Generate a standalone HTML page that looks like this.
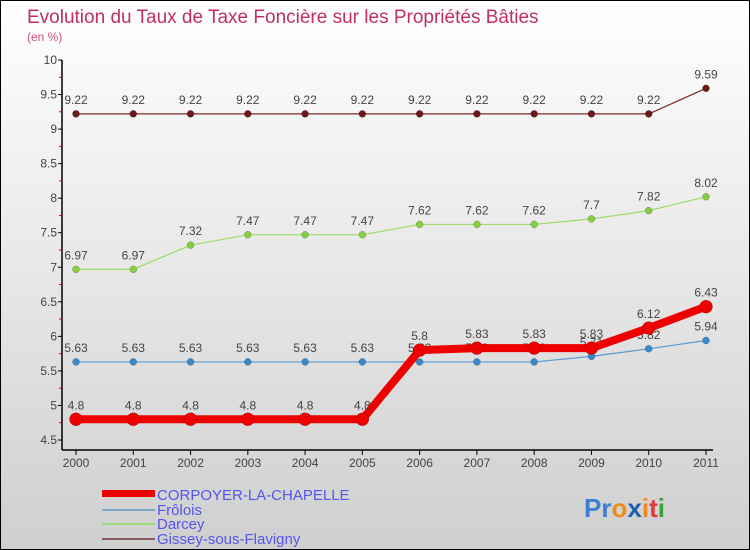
<!DOCTYPE html>
<html><head><meta charset="utf-8"><style>
body{margin:0}
#c{width:750px;height:550px;position:relative;box-sizing:border-box;border:1px solid #000;background:linear-gradient(#ffffff,#cfcfcf);font-family:"Liberation Sans",sans-serif;overflow:hidden}
</style></head><body>
<div id="c">
<svg id="s" width="750" height="550" style="position:absolute;left:0;top:0" font-family="Liberation Sans, sans-serif">
<text x="26" y="22" font-size="19" fill="#c0305a">Evolution du Taux de Taxe Foncière sur les Propriétés Bâties</text>
<text x="26" y="40" font-size="12" fill="#d05080">(en %)</text>
<g id="axes"></g><g id="series"></g>
<g>
<rect x="101" y="489" width="53" height="7" fill="#e00"/>
<text x="156" y="499" font-size="15" fill="#5555ee">CORPOYER-LA-CHAPELLE</text>
<rect x="101" y="508" width="53" height="2" fill="#7aa8cc"/>
<text x="156" y="514" font-size="15" fill="#5555ee">Frôlois</text>
<rect x="101" y="522" width="53" height="2" fill="#99dd77"/>
<text x="156" y="528" font-size="15" fill="#5555ee">Darcey</text>
<rect x="101" y="537" width="53" height="2" fill="#8a5a5a"/>
<text x="156" y="543" font-size="15" fill="#5555ee">Gissey-sous-Flavigny</text>
</g>
<g font-size="26" font-weight="bold">
<text x="583" y="516"><tspan fill="#3a7fd0">Pr</tspan><tspan fill="#f08a1a">o</tspan><tspan fill="#1a5fb0">x</tspan><tspan fill="#f08a1a">i</tspan><tspan fill="#e03a3a">t</tspan><tspan fill="#3aa03a">i</tspan></text>
</g>
</svg>
</div>
<script>
const years=["2000","2001","2002","2003","2004","2005","2006","2007","2008","2009","2010","2011"];
const yTicks=[4.5,5,5.5,6,6.5,7,7.5,8,8.5,9,9.5,10];
const gissey=[9.22,9.22,9.22,9.22,9.22,9.22,9.22,9.22,9.22,9.22,9.22,9.59];
const darcey=[6.97,6.97,7.32,7.47,7.47,7.47,7.62,7.62,7.62,7.7,7.82,8.02];
const erolois=[5.63,5.63,5.63,5.63,5.63,5.63,5.63,5.63,5.63,5.71,5.82,5.94];
const corpoyer=[4.8,4.8,4.8,4.8,4.8,4.8,5.8,5.83,5.83,5.83,6.12,6.43];
const NS="http://www.w3.org/2000/svg";
const X=i=>75+i*(630/11);
const Y=v=>439-(v-4.5)*(380/5.5);
function mk(t,a,p){const e=document.createElementNS(NS,t);for(const k in a)e.setAttribute(k,a[k]);p.appendChild(e);return e;}
const ax=document.getElementById('axes');
const yl=mk('line',{x1:61,y1:59,x2:61,y2:449,stroke:'#000','stroke-width':1.5},ax);


const xl=mk('line',{x1:61,y1:449,x2:712,y2:449,stroke:'#000','stroke-width':1.5},ax);


yTicks.forEach((v,i)=>{
  mk('line',{x1:57,y1:Y(v),x2:61,y2:Y(v),stroke:'#000'},ax);
  if(i<yTicks.length-1)mk('line',{x1:58,y1:Y(v+0.25),x2:61,y2:Y(v+0.25),stroke:'#e00'},ax);
  const t=mk('text',{x:56,y:Y(v)+4,'font-size':12,'text-anchor':'end',fill:'#444'},ax);
  t.textContent=String(v);
  
  
});
years.forEach((y,i)=>{
  mk('line',{x1:X(i),y1:449,x2:X(i),y2:454,stroke:'#000'},ax);
  const t=mk('text',{x:X(i),y:466,'font-size':12,'text-anchor':'middle',fill:'#444'},ax);
  t.textContent=y;
  
  
});
const sg=document.getElementById('series');
function series(name,data,color,w,r,dot){
  const g=mk('g',{},sg);
  
  
  const pl=mk('polyline',{points:data.map((v,i)=>X(i)+','+Y(v)).join(' '),fill:'none',stroke:color,'stroke-width':w,'stroke-linejoin':'round'},g);
  
  
  data.forEach((v,i)=>{
    const c=mk('circle',{cx:X(i),cy:Y(v),r:r,fill:dot,stroke:'rgba(0,0,0,0.3)','stroke-width':0.5},g);
    
    
    const t=mk('text',{x:X(i),y:Y(v)-10,'font-size':12,'text-anchor':'middle',fill:'#444'},g);
    t.textContent=String(v);
    
    
  });
}
series('gissey',gissey,'#7a2a2a',1.2,3.5,'#6a1a1a');
series('darcey',darcey,'#99dd66',1.2,3.5,'#88cc44');
series('erolois',erolois,'#5b9ad0',1.2,3.5,'#3a88c8');
series('corpoyer',corpoyer,'#ee0000',8,6.5,'#ee0000');
</script>
</body></html>
